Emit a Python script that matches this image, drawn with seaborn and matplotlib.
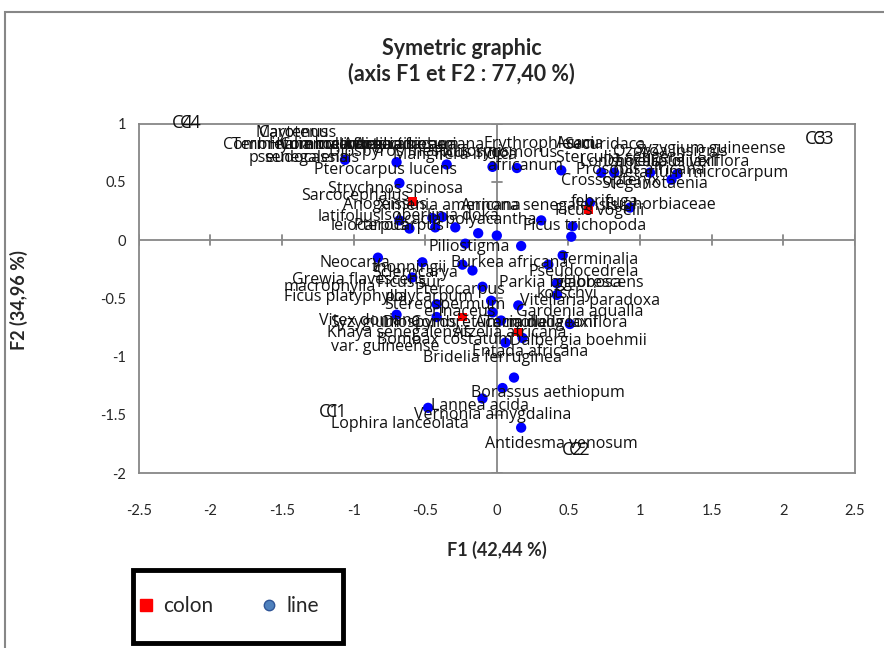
import numpy as np
import pandas as pd
import matplotlib.pyplot as plt
import seaborn as sns
from matplotlib.lines import Line2D
from matplotlib.patches import Rectangle

# column points (colon)
colon_x = [-0.59, 0.64, -0.24, 0.15]
colon_y = [0.33, 0.26, -0.66, -0.79]

# row points (line)
line_x = [-1.06, -0.70, -0.35, -0.03, 0.14, 0.45, 0.73, 0.82, 1.07, 1.22, 1.26,
          -0.68, 0.65, 0.93, 0.31, 0.53, 0.52, -0.68, -0.61, -0.45, -0.43, -0.38,
          -0.29, -0.13, 0.00, -0.22, 0.17, -0.83, -0.52, -0.24, -0.17, 0.46, 0.36,
          -0.59, -0.10, 0.42, 0.42, -0.42, -0.04, 0.15, -0.03, -0.70, -0.42, 0.03,
          0.51, 0.18, 0.06, 0.12, 0.04, -0.10, -0.48, 0.17]
line_y = [0.69, 0.67, 0.65, 0.63, 0.62, 0.60, 0.58, 0.58, 0.58, 0.52, 0.57,
          0.49, 0.32, 0.28, 0.17, 0.12, 0.03, 0.17, 0.10, 0.19, 0.11, 0.20,
          0.11, 0.06, 0.04, -0.03, -0.05, -0.15, -0.19, -0.21, -0.26, -0.13, -0.21,
          -0.32, -0.40, -0.37, -0.47, -0.55, -0.52, -0.56, -0.62, -0.64, -0.66, -0.69,
          -0.72, -0.84, -0.88, -1.18, -1.27, -1.36, -1.44, -1.61]

# data labels of the rows, where they sit on the chart
row_labels = ["Maytenus", "Carotenus", "Combretum collinum", "Terminalia macroptera",
              "Hymenocardia acida", "Combretum glutinosum", "Afzelia africana",
              "Acacia sieberiana", "pseudocassia", "senegalensis", "Diospyros mespiliformis",
              "Mangifera indica", "Pterocarpus lucens", "Erythrophleum", "Ficus sycomorus",
              "africanum", "Acacia", "Securidaca", "Sterculia setigera", "Syzygium guineense",
              "Ozoroa insignis", "Daniellia oliveri", "Lonchocarpus laxiflora",
              "Detarium microcarpum", "Prosopis africana", "Crossopteryx", "Steganotaenia",
              "Annona senegalensis", "febrifuga", "Euphorbiaceae", "Ficus vogelii",
              "Ficus trichopoda", "Strychnos spinosa", "Sarcocephalus", "latifolius",
              "Anogeissus", "Ximenia americana", "Isoberlinia doka", "Acacia polyacantha",
              "leiocarpus", "Pterocarpus", "Piliostigma", "Neocarya", "thonningii",
              "Sclerocarya", "Burkea africana", "Terminalia", "Pseudocedrela",
              "Grewia flavescens", "Ficus sur", "macrophylla", "Pterocarpus",
              "Parkia biglobosa", "glabrescens", "kotschyi", "Ficus platyphylla",
              "polycarpum", "Vitellaria paradoxa", "Stereospermum", "erinaceus",
              "Gardenia aqualla", "Vitex doniana", "Syzygium", "Diospyros",
              "Combretum molle", "Terminalia laxiflora", "Acacia dudgeoni",
              "Khaya senegalensis", "Afzelia africana", "Bombax costatum",
              "Dalbergia boehmii", "var. guineense", "Entada africana",
              "Bridelia ferruginea", "Borassus aethiopum", "Lannea acida",
              "Vernonia amygdalina", "Lophira lanceolata", "Antidesma venosum"]
row_label_x = [-1.43, -1.39, -1.36, -1.25, -1.06, -0.89, -0.68, -0.54, -1.38, -1.29, -0.54,
               -0.29, -0.78, 0.30, -0.01, 0.20, 0.58, 0.75, 0.86, 1.49, 1.21, 1.14,
               1.17, 1.42, 1.00, 0.79, 1.10, 0.30, 0.75, 1.14, 0.72, 0.61, -0.71,
               -0.99, -1.03, -0.78, -0.33, -0.40, -0.22, -0.89, -0.68, -0.19, -0.99,
               -0.61, -0.57, 0.09, 0.72, 0.61, -0.96, -0.61, -1.17, -0.26, 0.44,
               0.72, 0.49, -1.06, -0.47, 0.65, -0.36, -0.26, 0.58, -0.89, -0.92,
               -0.54, -0.12, 0.41, 0.27, -0.68, 0.09, -0.36, 0.57, -0.78, 0.23,
               -0.03, 0.36, -0.12, -0.03, -0.68, 0.45]
row_label_y = [0.92, 0.92, 0.82, 0.82, 0.82, 0.82, 0.82, 0.82, 0.71, 0.71, 0.76,
               0.73, 0.60, 0.83, 0.75, 0.64, 0.83, 0.82, 0.71, 0.78, 0.76, 0.67,
               0.67, 0.58, 0.60, 0.51, 0.48, 0.29, 0.33, 0.30, 0.25, 0.12, 0.44,
               0.38, 0.20, 0.30, 0.29, 0.21, 0.17, 0.12, 0.12, -0.06, -0.20,
               -0.24, -0.28, -0.20, -0.17, -0.27, -0.34, -0.37, -0.40, -0.43, -0.37,
               -0.37, -0.46, -0.49, -0.49, -0.52, -0.56, -0.62, -0.62, -0.69, -0.71,
               -0.71, -0.71, -0.71, -0.71, -0.80, -0.80, -0.86, -0.87, -0.92, -0.96,
               -1.01, -1.31, -1.42, -1.50, -1.58, -1.75]

# data labels of the columns
col_labels = ["C4", "C4", "C3", "C3", "C1", "C1", "C2", "C2"]
col_label_x = [-2.19, -2.14, 2.23, 2.28, -1.17, -1.12, 0.53, 0.58]
col_label_y = [1.01, 1.01, 0.87, 0.87, -1.48, -1.48, -1.80, -1.80]

df = pd.concat([
    pd.DataFrame({"F1": line_x, "F2": line_y, "kind": "line"}),
    pd.DataFrame({"F1": colon_x, "F2": colon_y, "kind": "colon"}),
], ignore_index=True)

sns.set_style("white")
plt.rcParams['font.family'] = ['Lato', 'DejaVu Sans']

fig = plt.figure(figsize=(8.84, 6.48), dpi=100)
ax = fig.add_axes([0.157, 0.270, 0.810, 0.539])

grey = "#878787"
ax.axhline(0, color=grey, lw=1.3, zorder=1)
ax.axvline(0, color=grey, lw=1.3, zorder=1)

xt = np.arange(-2.5, 2.51, 0.5)
yt = np.arange(-2, 1.01, 0.5)
for t in xt:
    ax.plot([t, t], [-0.043, 0.043], color=grey, lw=1.3, zorder=1)
for t in yt:
    ax.plot([-0.035, 0.035], [t, t], color=grey, lw=1.3, zorder=1)

sns.scatterplot(data=df, x="F1", y="F2", hue="kind", style="kind", size="kind",
                palette={"line": "#0000ff", "colon": "#ff0000"},
                markers={"line": "o", "colon": "s"},
                sizes={"line": 55, "colon": 38},
                linewidth=0, legend=False, ax=ax, zorder=3)

for t, x, y in zip(row_labels, row_label_x, row_label_y):
    ax.text(x, y, t, ha="center", va="center", fontsize=11.5,
            family=["Open Sans", "DejaVu Sans"], color="#111111", zorder=4)
for t, x, y in zip(col_labels, col_label_x, col_label_y):
    ax.text(x, y, t, ha="center", va="center", fontsize=13,
            family=["Open Sans", "DejaVu Sans"], color="#111111", zorder=4)

ax.set_xlim(-2.5, 2.5)
ax.set_ylim(-2, 1)
ax.set_xticks(xt)
ax.set_yticks(yt)
ax.set_xticklabels([f"{v:g}" for v in xt])
ax.set_yticklabels([f"{v:g}" for v in yt])
ax.tick_params(axis="x", length=0, pad=22, labelsize=10.5)
ax.tick_params(axis="y", length=0, pad=9, labelsize=10.5)
for sp in ax.spines.values():
    sp.set_color(grey)
    sp.set_linewidth(1.3)
ax.set_xlabel("")
ax.set_ylabel("")

fig.text(0.522, 0.905, "Symetric graphic\n(axis F1 et F2 : 77,40 %)", ha="center",
         va="center", fontsize=15.5, fontweight="bold", linespacing=1.2)
fig.text(0.562, 0.151, "F1 (42,44 %)", ha="center", va="center",
         fontsize=13, fontweight="bold")
fig.text(0.021, 0.537, "F2 (34,96 %)", ha="center", va="center",
         fontsize=13, fontweight="bold", rotation=90)

fig.add_artist(Rectangle((5 / 884, -0.05), 1.2, 1.05 - 12 / 648,
                         transform=fig.transFigure, fill=False,
                         edgecolor=grey, lw=1.5))

# legend box
fig.add_artist(Rectangle((133 / 884, 5 / 648), 210 / 884, 73 / 648,
                         transform=fig.transFigure, fill=False,
                         edgecolor="black", lw=3.5, zorder=5))
handles = [Line2D([], [], marker="s", ls="", color="#ff0000", markersize=8),
           Line2D([], [], marker="o", ls="", markerfacecolor="#4f81bd",
                  markeredgecolor="#2f5597", markersize=7.5)]
lgd = fig.legend(handles, ["colon", "line"], loc="center left", ncol=2,
                 bbox_to_anchor=(138 / 884, 42 / 648), borderaxespad=0,
                 borderpad=0, fontsize=15, frameon=False, handlelength=0.8,
                 handletextpad=0.4, columnspacing=2.3)

fig.savefig("out.png", dpi=100)
